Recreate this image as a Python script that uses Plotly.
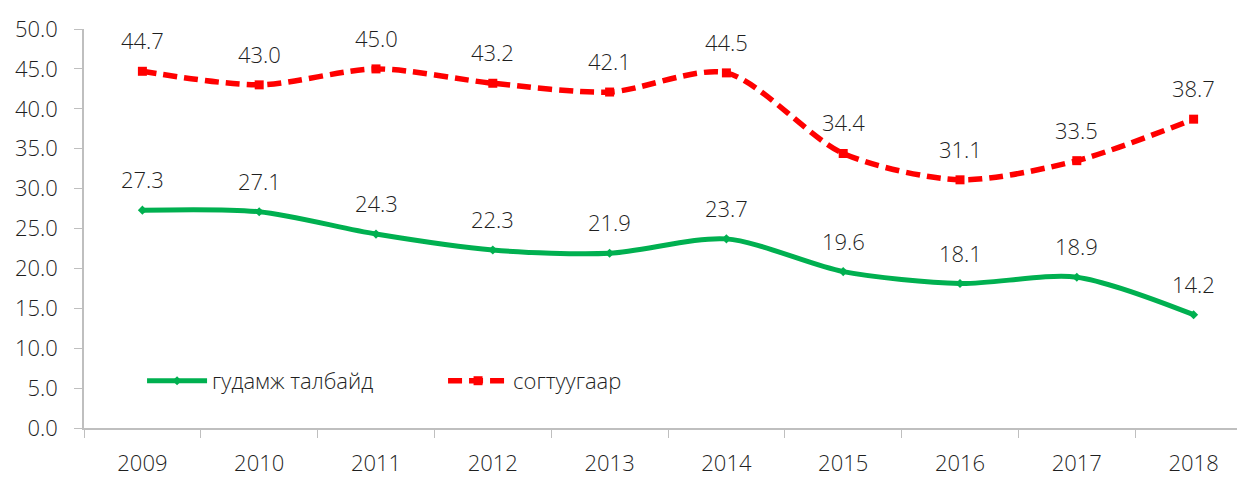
import plotly.graph_objects as go

years = ["2009", "2010", "2011", "2012", "2013", "2014", "2015", "2016", "2017", "2018"]
street = [27.3, 27.1, 24.3, 22.3, 21.9, 23.7, 19.6, 18.1, 18.9, 14.2]
drunk = [44.7, 43.0, 45.0, 43.2, 42.1, 44.5, 34.4, 31.1, 33.5, 38.7]
name_street = "гудамж талбайд"
name_drunk = "согтуугаар"
y_ticks = [0, 5, 10, 15, 20, 25, 30, 35, 40, 45, 50]

FONT = "Open Sans"
TXT = "#1f1f1f"
FS = 22
FW = 350

idx = list(range(len(years)))

fig = go.Figure()
fig.add_trace(go.Scatter(
    x=idx, y=street, name=name_street, mode="lines+markers",
    line=dict(color="#00B050", width=5, shape="spline", smoothing=0.8),
    marker=dict(symbol="diamond", size=7, color="#00B050"),
))
fig.add_trace(go.Scatter(
    x=idx, y=drunk, name=name_drunk, mode="lines+markers",
    line=dict(color="#FF0000", width=5.5, dash="14px,7px", shape="spline", smoothing=0.8),
    marker=dict(symbol="square", size=9, color="#FF0000"),
))

for series in (street, drunk):
    for xi, yv in zip(idx, series):
        fig.add_annotation(x=xi, y=yv, text=f"{yv:.1f}", showarrow=False,
                           xref="x", yref="y",
                           yshift=31, font=dict(family=FONT, size=FS, color=TXT, weight=FW))

# the page body has an 8px margin, so the figure is offset by 8px
fig.update_layout(
    width=1237, height=469,
    margin=dict(l=76, r=0, t=21, b=45),
    plot_bgcolor="white", paper_bgcolor="white",
    font=dict(family=FONT, size=FS, color=TXT, weight=FW),
    showlegend=True,
    legend=dict(orientation="h", x=0.05, y=0.118, xanchor="left", yanchor="middle",
                font=dict(family=FONT, size=FS, color=TXT, weight=FW),
                bgcolor="rgba(0,0,0,0)", itemwidth=60, tracegroupgap=0,
                entrywidth=226),
)
fig.update_xaxes(
    tickmode="array", tickvals=idx, ticktext=years, range=[-0.5, 9.44],
    showline=True, linecolor="#BFBFBF", linewidth=1.5,
    ticks="", showgrid=False, zeroline=False, ticklabelstandoff=15,
)
# tick marks between categories
fig.update_xaxes(minor=dict(tickvals=[i + 0.5 for i in range(-1, len(years))],
                            ticks="outside", ticklen=8, tickcolor="#BFBFBF", showgrid=False))
fig.update_yaxes(
    range=[0, 50], tickvals=y_ticks, ticktext=[f"{v:.1f}" for v in y_ticks],
    showline=True, linecolor="#BFBFBF", linewidth=1.5,
    ticks="outside", ticklen=8, tickcolor="#BFBFBF",
    showgrid=False, zeroline=False, ticklabelstandoff=12,
)

fig.write_html("out.html")
